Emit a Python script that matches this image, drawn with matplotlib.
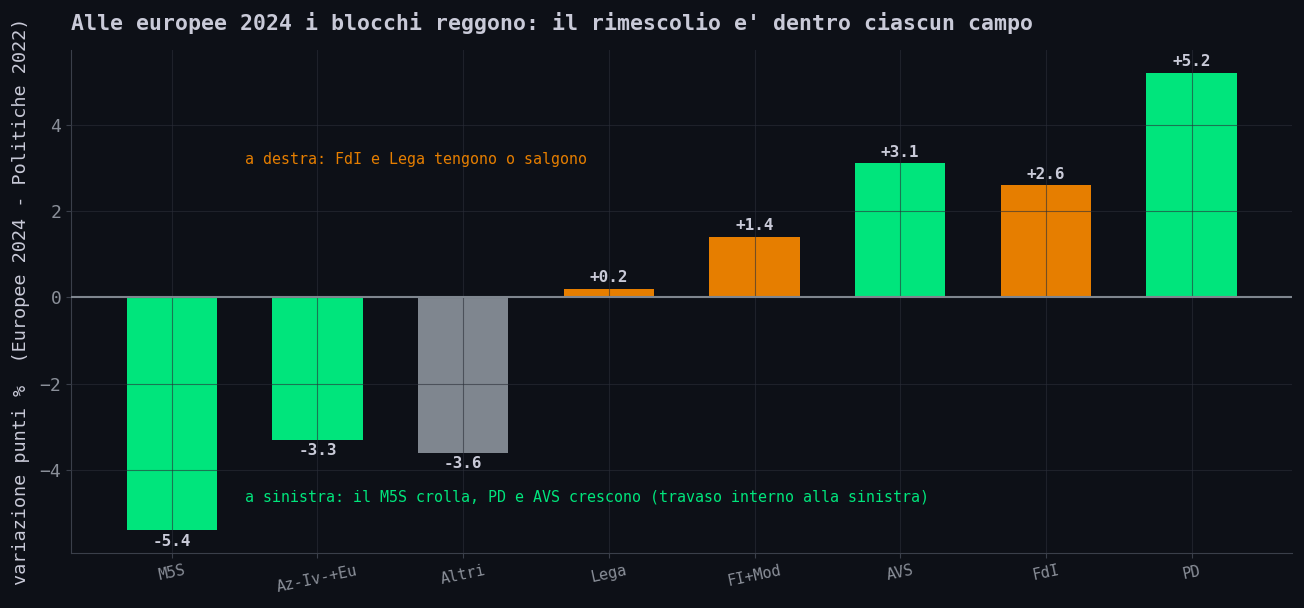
import matplotlib
matplotlib.use("Agg")
import matplotlib.pyplot as plt

# dati: variazione punti % europee 2024 vs politiche 2022
partiti = ["M5S", "Az-Iv-+Eu", "Altri", "Lega", "FI+Mod", "AVS", "FdI", "PD"]
delta = [-5.4, -3.3, -3.6, 0.2, 1.4, 3.1, 2.6, 5.2]
campo = ["sx", "sx", "altro", "dx", "dx", "sx", "dx", "sx"]

BG = "#0d1017"
VERDE = "#00e57c"
ARANCIO = "#e67e00"
GRIGIO = "#7f868f"
TESTO = "#c9cad8"
colori = {"sx": VERDE, "dx": ARANCIO, "altro": GRIGIO}

plt.rcParams["font.family"] = "DejaVu Sans Mono"

fig, ax = plt.subplots(figsize=(13.04, 6.08), dpi=100)
fig.patch.set_facecolor(BG)
ax.set_facecolor(BG)

x = range(len(partiti))
ax.bar(x, delta, width=0.62, color=[colori[c] for c in campo], zorder=2)
ax.axhline(0, color="#7f868f", lw=1.5, zorder=3)

for i, v in enumerate(delta):
    if v >= 0:
        ax.text(i, v + 0.08, f"{v:+.1f}", ha="center", va="bottom",
                color=TESTO, fontsize=11.5, fontweight="bold", zorder=4)
    else:
        ax.text(i, v - 0.08, f"{v:+.1f}", ha="center", va="top",
                color=TESTO, fontsize=11.5, fontweight="bold", zorder=4)

ax.text(0.5, 3.2, "a destra: FdI e Lega tengono o salgono", color=ARANCIO,
        fontsize=10.85, va="center", ha="left")
ax.text(0.5, -4.62, "a sinistra: il M5S crolla, PD e AVS crescono (travaso interno alla sinistra)",
        color=VERDE, fontsize=10.85, va="center", ha="left")

ax.set_xticks(list(x))
ax.set_xticklabels(partiti, rotation=12, fontsize=11)
ax.tick_params(axis="y", labelsize=13)
ax.tick_params(colors="#3a3f4a", which="both")
for lab in ax.get_yticklabels() + ax.get_xticklabels():
    lab.set_color("#8a8f99")

ax.grid(True, color="#2a2e38", alpha=0.6, lw=0.8, zorder=5)
ax.set_axisbelow(False)
for s in ["top", "right"]:
    ax.spines[s].set_visible(False)
for s in ["left", "bottom"]:
    ax.spines[s].set_color("#3a3f4a")

ax.set_ylabel("variazione punti %  (Europee 2024 - Politiche 2022)", color=TESTO,
              fontsize=13.3, labelpad=7)
ax.set_title("Alle europee 2024 i blocchi reggono: il rimescolio e' dentro ciascun campo",
             color=TESTO, fontsize=15.45, fontweight="bold", loc="left", pad=14)

plt.subplots_adjust(left=0.0545, right=0.991, top=0.918, bottom=0.09)
plt.savefig("out.png", facecolor=BG)
